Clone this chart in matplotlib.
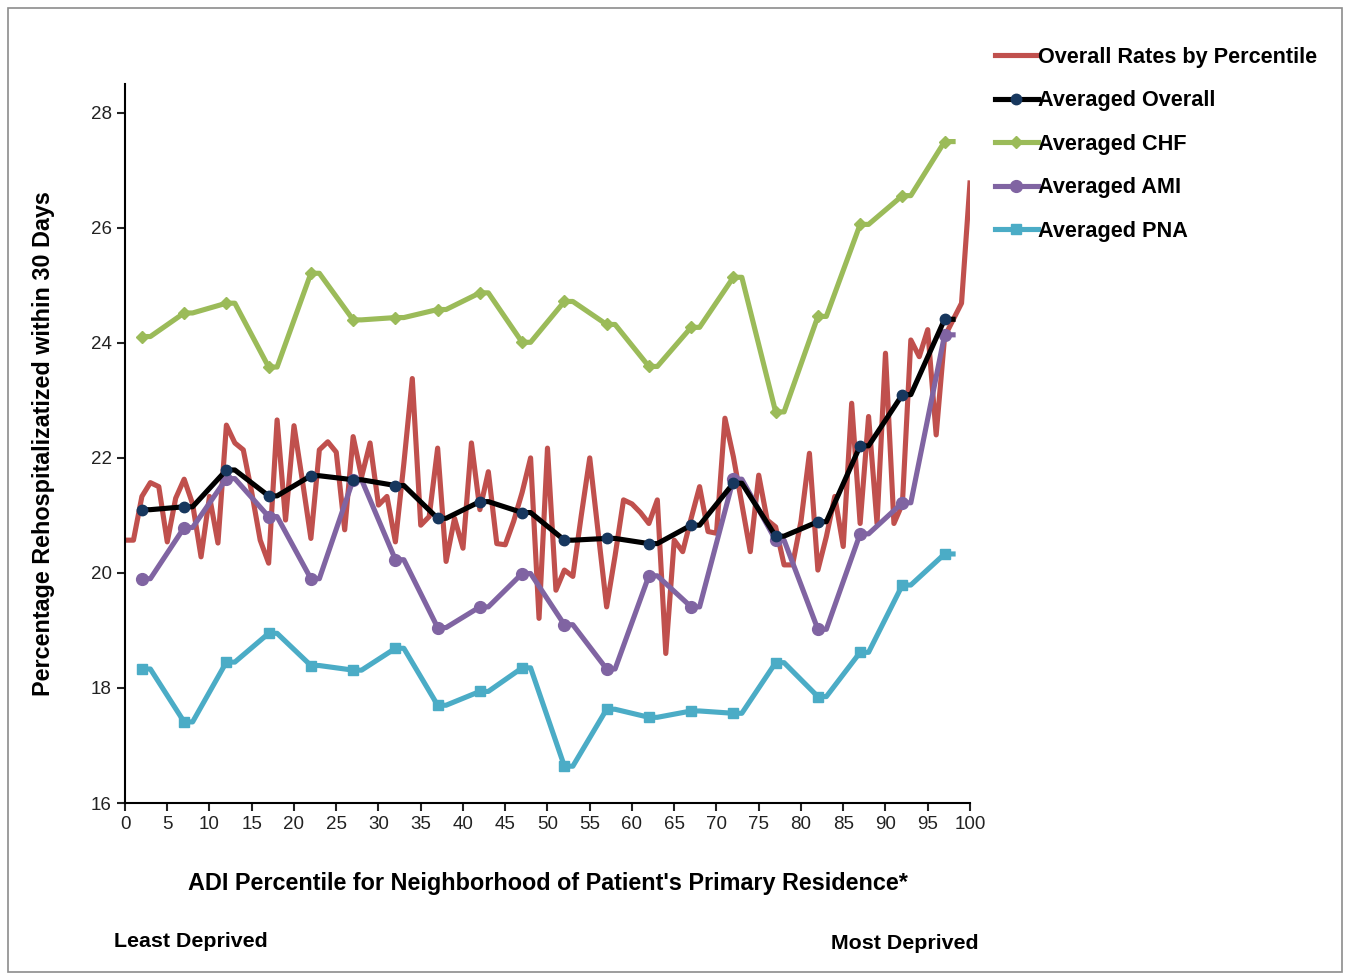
import matplotlib
matplotlib.use('Agg')
import matplotlib.pyplot as plt
import numpy as np
from matplotlib.patches import Rectangle

plt.rcParams['font.family'] = ['Liberation Sans', 'DejaVu Sans']

# overall rate for each percentile 0..100
pct = list(range(0, 101))
overall = [20.57, 20.57, 21.33, 21.57, 21.5, 20.54, 21.3, 21.63, 21.2, 20.28,
           21.33, 20.52, 22.57, 22.26, 22.14, 21.4, 20.57, 20.17, 22.66, 20.92,
           22.56, 21.6, 20.6, 22.14, 22.28, 22.1, 20.75, 22.37, 21.67, 22.26,
           21.18, 21.33, 20.54, 21.9, 23.38, 20.83, 20.98, 22.17, 20.2, 20.95,
           20.43, 22.26, 21.1, 21.76, 20.51, 20.49, 20.9, 21.4, 22.0, 19.21,
           22.17, 19.7, 20.05, 19.94, 21.0, 22.0, 20.7, 19.41, 20.3, 21.27,
           21.2, 21.05, 20.86, 21.27, 18.6, 20.57, 20.37, 20.95, 21.5, 20.72,
           20.69, 22.69, 22.02, 21.2, 20.37, 21.7, 20.92, 20.8, 20.14, 20.14,
           20.9, 22.08, 20.05, 20.63, 21.33, 20.46, 22.95, 20.86, 22.72, 20.86,
           23.82, 20.86, 21.2, 24.05, 23.76, 24.23, 22.4, 24.11, 24.4, 24.69,
           26.78]

# averaged groups, one per 5 percentiles
avg_x = [2, 7, 12, 17, 22, 27, 32, 37, 42, 47, 52, 57, 62, 67, 72, 77, 82, 87, 92, 97]
avg_overall = [21.1, 21.15, 21.79, 21.34, 21.69, 21.62, 21.52, 20.95, 21.24, 21.05,
               20.57, 20.6, 20.51, 20.83, 21.56, 20.64, 20.89, 22.21, 23.1, 24.41]
avg_chf = [24.11, 24.52, 24.69, 23.58, 25.21, 24.4, 24.44, 24.58, 24.87, 24.01,
           24.72, 24.32, 23.59, 24.27, 25.14, 22.8, 24.46, 26.06, 26.56, 27.5]
avg_ami = [19.9, 20.79, 21.64, 20.98, 19.9, 21.62, 20.23, 19.05, 19.41, 19.99,
           19.1, 18.33, 19.95, 19.41, 21.63, 20.57, 19.02, 20.68, 21.22, 24.14]
avg_pna = [18.33, 17.41, 18.45, 18.95, 18.39, 18.31, 18.69, 17.7, 17.94, 18.35,
           16.64, 17.63, 17.49, 17.6, 17.56, 18.44, 17.85, 18.62, 19.79, 20.33]

fig = plt.figure(figsize=(13.47, 9.75), dpi=100)
fig.patches.append(Rectangle((0.006, 0.003), 0.99, 0.989, transform=fig.transFigure,
                             fill=False, edgecolor='#8c8c8c', linewidth=1.2))
ax = fig.add_axes([0.0928, 0.1764, 0.6273, 0.7374])

# each average point is held flat over one extra percentile
xx = np.repeat(avg_x, 2) + np.tile([0, 1], len(avg_x))
lw = 3.7

ax.plot(pct, overall, color='#C0504D', lw=lw, label='Overall Rates by Percentile', zorder=2)
ax.plot(xx, np.repeat(avg_overall, 2), color='black', lw=lw, marker='o', markevery=2,
        ms=7.5, mfc='#17375E', mec='#17375E', label='Averaged Overall', zorder=5)
ax.plot(xx, np.repeat(avg_chf, 2), color='#9BBB59', lw=lw, marker='D', markevery=2,
        ms=6.5, label='Averaged CHF', zorder=3)
ax.plot(xx, np.repeat(avg_ami, 2), color='#8064A2', lw=lw, marker='o', markevery=2,
        ms=8.5, label='Averaged AMI', zorder=4)
ax.plot(xx, np.repeat(avg_pna, 2), color='#4BACC6', lw=lw, marker='s', markevery=2,
        ms=7, label='Averaged PNA', zorder=3)

ax.set_xlim(0, 100)
ax.set_ylim(16, 28.5)
ax.set_xticks(range(0, 101, 5))
ax.set_yticks(range(16, 29, 2))
ax.spines['top'].set_visible(False)
ax.spines['right'].set_visible(False)
ax.spines['left'].set_linewidth(1.5)
ax.spines['bottom'].set_linewidth(1.5)
ax.tick_params(direction='out', length=6, width=1.5, labelsize=13.5, colors='#222222')

ax.set_ylabel('Percentage Rehospitalizatized within 30 Days', fontsize=16.8,
              fontweight='bold', labelpad=26)
ax.set_xlabel("ADI Percentile for Neighborhood of Patient's Primary Residence*",
              fontsize=16.8, fontweight='bold', labelpad=28)

fig.text(0.085, 0.0285, 'Least Deprived', fontsize=15.4, fontweight='bold')
fig.text(0.617, 0.0265, 'Most Deprived', fontsize=15.4, fontweight='bold')

fig.legend(loc='upper left', bbox_to_anchor=(0.724, 0.972), frameon=False,
           handlelength=2.0, handletextpad=0.0, labelspacing=1.04,
           prop={'weight': 'bold', 'size': 15.6})

fig.savefig('out.png', dpi=100)
